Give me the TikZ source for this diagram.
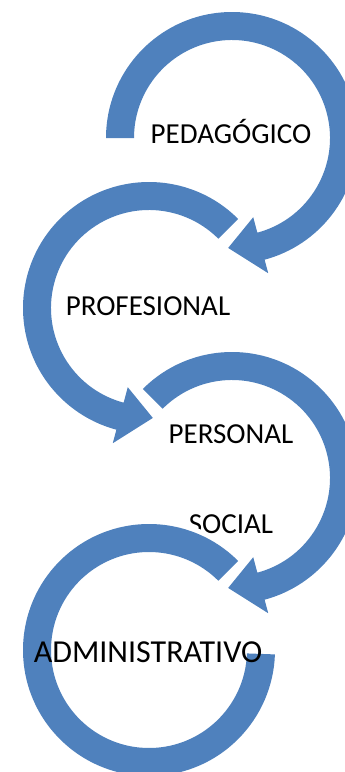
\documentclass[tikz,border=0pt]{standalone}
\usepackage{fontspec}
\setmainfont{Carlito}
\usepackage{tikz}
\definecolor{arrowblue}{HTML}{4F81BD}

\begin{document}
\begin{tikzpicture}[x=1pt, y=1pt,
        arrowband/.style={fill=arrowblue, draw=none},
        areatext/.style={anchor=base, inner sep=0pt, text=black, font=\fontsize{29}{35}\selectfont}]
    % Frame of the picture
    \useasboundingbox (0,0) rectangle (345,-772);
    \clip (0,0) rectangle (345,-772);

    % Centres of the circular arrows
    \coordinate (c1) at (232,-138);
    \coordinate (c2) at (149,-308);
    \coordinate (c3) at (232,-478);
    \coordinate (c4) at (149,-650);

    % First arrow, clockwise
    \fill[arrowband] ([shift={(180:126)}]c1) arc[start angle=180, end angle=-75, radius=126]
        -- ([shift={(-75:140)}]c1) -- ([shift={(-92:110)}]c1) -- ([shift={(-75:82)}]c1)
        -- ([shift={(-75:98)}]c1) arc[start angle=-75, end angle=180, radius=98] -- cycle;

    % Second arrow, counter-clockwise
    \fill[arrowband] ([shift={(45:126)}]c2) arc[start angle=45, end angle=255, radius=126]
        -- ([shift={(255:140)}]c2) -- ([shift={(272:110)}]c2) -- ([shift={(255:82)}]c2)
        -- ([shift={(255:98)}]c2) arc[start angle=255, end angle=45, radius=98] -- cycle;

    % Third arrow, clockwise
    \fill[arrowband] ([shift={(135:126)}]c3) arc[start angle=135, end angle=-75, radius=126]
        -- ([shift={(-75:140)}]c3) -- ([shift={(-92:110)}]c3) -- ([shift={(-75:82)}]c3)
        -- ([shift={(-75:98)}]c3) arc[start angle=-75, end angle=135, radius=98] -- cycle;

    \node[areatext] (ped) at (231,-143) {PEDAGÓGICO};
    \node[areatext] (prof) at (148,-315) {PROFESIONAL};
    \node[areatext] (pers) at (231,-443) {PERSONAL};
    \node[areatext] (soc) at (231,-533) {SOCIAL};

    % Last ring, no head, white rim over SOCIAL
    \fill[arrowband, preaction={draw=white, line width=10}] ([shift={(45:126)}]c4) arc[start angle=45, end angle=358, radius=126]
        -- ([shift={(358:98)}]c4) arc[start angle=358, end angle=45, radius=98] -- cycle;

    \node[areatext, font=\fontsize{32}{38}\selectfont] (adm) at (148,-662) {ADMINISTRATIVO};
\end{tikzpicture}
\end{document}
